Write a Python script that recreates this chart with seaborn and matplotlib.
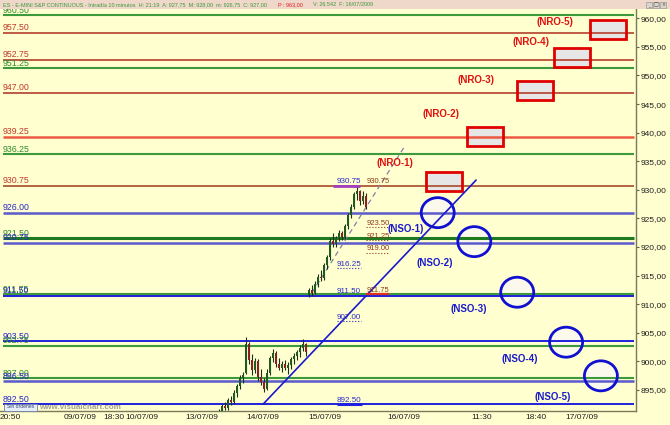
import numpy as np
import pandas as pd
import seaborn as sns
import matplotlib.pyplot as plt
from matplotlib.patches import Rectangle, Ellipse

# horizontal levels (price)
levels = [960.50, 957.50, 952.75, 951.25, 947.00, 939.25, 936.25, 930.75, 926.00,
          921.50, 920.75, 911.75, 911.50, 903.50, 902.75, 897.00, 896.50, 892.50]
level_kind = ['g', 'r', 'r', 'g', 'r', 'r2', 'g', 'r3', 'b',
              'g2', 'b', 'g', 'b2', 'b2', 'g', 'g', 'b', 'b2']

# 10 minute candles (13/07 close, 14/07 and 15/07)
opens = [891.0, 891.3, 892.2, 891.8, 893.2, 892.8, 894.5, 895.6, 897.0, 898.0,
         903.0, 900.2, 898.4, 900.0, 897.2, 896.4, 895.2, 898.0, 900.5, 901.4,
         899.6, 898.9, 899.6, 898.8, 899.4, 900.4, 901.0, 901.6, 902.4, 903.0,
         911.6, 912.4, 912.0, 913.6, 914.8, 914.6, 916.8, 918.2, 921.0, 920.6,
         921.6, 922.4, 921.8, 923.6, 925.6, 927.0, 929.2, 929.8, 928.0, 929.0]
highs = [891.6, 892.6, 892.8, 893.6, 894.0, 895.0, 896.0, 897.6, 898.2, 904.2,
         903.4, 901.2, 900.6, 900.4, 898.6, 897.0, 898.6, 901.0, 902.2, 901.8,
         900.6, 900.0, 900.2, 899.8, 900.8, 901.4, 902.0, 902.8, 903.9, 903.2,
         912.8, 913.4, 914.0, 915.2, 916.0, 917.2, 918.6, 921.6, 922.4, 922.0,
         923.0, 922.8, 924.0, 926.0, 927.6, 929.6, 930.75, 930.0, 929.8, 929.4]
lows = [890.5, 891.0, 891.4, 891.5, 892.4, 892.6, 893.8, 895.2, 896.2, 897.8,
        899.5, 897.6, 898.0, 896.6, 895.8, 894.6, 895.0, 897.6, 899.8, 899.0,
        898.4, 898.2, 898.4, 897.8, 898.6, 899.6, 900.2, 900.8, 901.8, 901.0,
        911.2, 911.4, 911.8, 913.0, 914.0, 914.2, 916.2, 917.8, 920.0, 920.0,
        921.0, 921.2, 921.4, 923.2, 925.0, 926.6, 928.2, 927.4, 927.6, 926.6]
closes = [891.3, 892.2, 891.8, 893.2, 892.8, 894.5, 895.6, 897.0, 897.6, 903.0,
          900.2, 898.4, 900.0, 897.2, 896.4, 895.2, 898.0, 900.5, 901.4, 899.6,
          898.9, 899.6, 898.8, 899.4, 900.4, 901.0, 901.6, 902.4, 903.0, 901.6,
          912.4, 912.0, 913.6, 914.8, 914.6, 916.8, 918.2, 921.0, 920.6, 921.6,
          922.4, 921.8, 923.6, 925.6, 927.0, 929.2, 929.8, 928.0, 929.0, 927.0]
first_bar = 73

# resistance targets (NRO) and support targets (NSO)
nro_names = ['(NRO-1)', '(NRO-2)', '(NRO-3)', '(NRO-4)', '(NRO-5)']
nro_box_bar = [148.0, 161.8, 178.2, 190.7, 202.7]
nro_box_level = [931.46, 939.33, 947.29, 953.14, 958.04]
nro_text_bar = [131.5, 147.0, 158.7, 177.0, 185.0]
nro_text_level = [934.7, 943.26, 949.2, 955.9, 959.35]

nso_names = ['(NSO-1)', '(NSO-2)', '(NSO-3)', '(NSO-4)', '(NSO-5)']
nso_circle_bar = [145.9, 158.1, 172.4, 188.7, 200.3]
nso_circle_level = [926.0, 920.93, 912.08, 903.34, 897.45]
nso_text_bar = [135.2, 145.0, 156.3, 173.3, 184.2]
nso_text_level = [923.15, 917.2, 909.15, 900.4, 893.8]

# trend lines
trend_bars = [87.7, 158.7]
trend_levels = [892.5, 931.7]
channel_bars = [104.0, 135.0]
channel_levels = [912.0, 937.7]

# small price marks beside the candles
blue_marks = [930.75, 916.25, 911.50, 907.00, 892.50]
brown_marks = [930.75, 923.50, 921.25, 919.00, 911.75]

# x axis
tick_bars = [0, 21.3, 34.3, 41.7, 61.7, 82.0, 102.7, 129.0, 157.0, 175.0, 188.3]
tick_labels = ['20:50', '09/07/09', '18:30', '10/07/09', '13/07/09', '14/07/09',
               '15/07/09', '16/07/09', '11:30', '18:40', '17/07/09']
price_ticks = list(range(895, 961, 5))

BG = '#FFFFD0'
sns.set_style('white', {'axes.facecolor': BG, 'figure.facecolor': BG})
plt.rcParams['font.family'] = ['Liberation Sans', 'DejaVu Sans']

kind_style = {
    'g': ('#3C9A3C', 1.5, '#2E8B2E'),
    'g2': ('#1E7A1E', 2.2, '#2E8B2E'),
    'r': ('#B4402C', 1.2, '#C0392B'),
    'r2': ('#EC5A44', 1.8, '#C0392B'),
    'r3': ('#A84A2A', 1.2, '#C0392B'),
    'b': ('#5A5ACC', 1.8, '#2828C8'),
    'b2': ('#2020DD', 1.4, '#2828C8'),
}

fig = plt.figure(figsize=(6.7, 4.25), dpi=100)
ax = fig.add_axes([0, 1 - 411 / 425, 636 / 670, (411 - 9) / 425])
ax.set_xlim(0, 212)
ax.set_ylim(891.3, 961.63)

for lv, kind in zip(levels, level_kind):
    col, lw, tcol = kind_style[kind]
    ax.hlines(lv, 1, 211.3, color=col, lw=lw, zorder=2)
    ax.annotate(f'{lv:.2f}', (1, lv), xytext=(0, 1.8), textcoords='offset points',
                fontsize=6.3, color=tcol, va='baseline', ha='left', zorder=6,
                annotation_clip=False, clip_on=True)

# target boxes and circles (fill below lines, edge above)
for b, lv in zip(nro_box_bar, nro_box_level):
    ax.add_patch(Rectangle((b - 6, lv - 1.66), 12, 3.32, facecolor='#E6E6E6', lw=0, zorder=1))
    ax.add_patch(Rectangle((b - 6, lv - 1.66), 12, 3.32, fill=False, edgecolor='#E00000', lw=2, zorder=3))
for name, b, lv in zip(nro_names, nro_text_bar, nro_text_level):
    ax.text(b, lv, name, color='#E01010', fontsize=7, fontweight='bold', ha='center', va='center', zorder=6)

for b, lv in zip(nso_circle_bar, nso_circle_level):
    ax.add_patch(Ellipse((b, lv), 11, 5.25, facecolor='#FBF8EC', lw=0, zorder=1))
    ax.add_patch(Ellipse((b, lv), 11, 5.25, fill=False, edgecolor='#1010D0', lw=2, zorder=3))
for name, b, lv in zip(nso_names, nso_text_bar, nso_text_level):
    ax.text(b, lv, name, color='#1A1ACC', fontsize=7, fontweight='bold', ha='center', va='center', zorder=6)

# trend lines
sns.lineplot(x=trend_bars, y=trend_levels, ax=ax, color='#1A1ACC', lw=1.2, zorder=3)
sns.lineplot(x=channel_bars, y=channel_levels, ax=ax, color='#8080A8', lw=0.9,
             linestyle=(0, (4, 3)), zorder=3)

# candles
df = pd.DataFrame({'open': opens, 'high': highs, 'low': lows, 'close': closes})
df['bar'] = np.arange(first_bar, first_bar + len(df))
up = df['close'] >= df['open']
ax.vlines(df['bar'], df['low'], df['high'], color='#1E2E1E', lw=0.8, zorder=4)
ax.bar(df['bar'], (df['close'] - df['open']).abs().clip(lower=0.15),
       bottom=np.minimum(df['open'], df['close']), width=0.75,
       color=np.where(up, '#1F5A1F', '#8B2020'), lw=0, zorder=5)

# price marks near the candles
for lv in blue_marks:
    ax.annotate(f'{lv:.2f}', (112.3, lv), xytext=(0, 1.6), textcoords='offset points',
                fontsize=5.8, color='#2828C8', va='baseline', ha='left', zorder=6)
for lv in brown_marks:
    ax.annotate(f'{lv:.2f}', (122.3, lv), xytext=(0, 1.6), textcoords='offset points',
                fontsize=5.5, color='#8B3A1A', va='baseline', ha='left', zorder=6)
ax.hlines(blue_marks[0], 111, 120, color='#A040C0', lw=2, zorder=4)
ax.hlines(blue_marks[1:4:2], 112.3, 120.3, color='#2828C8', lw=0.8, linestyles=':', zorder=4)
ax.hlines(blue_marks[4], 112.3, 120.7, color='#2020E0', lw=2.2, zorder=4)
ax.hlines(brown_marks[1:4], 122, 129.7, color='#8B3A1A', lw=0.8, linestyles=':', zorder=4)
ax.hlines(brown_marks[4], 122, 129.7, color='#E03020', lw=1.6, zorder=4)

# axes styling
ax.set_xlabel('')
ax.set_ylabel('')
ax.set_xticks(tick_bars)
ax.set_xticklabels(tick_labels, ha='left')
ax.yaxis.tick_right()
ax.set_yticks(price_ticks)
ax.set_yticklabels([f'{v:.2f}'.replace('.', ',') for v in price_ticks])
ax.tick_params(axis='both', labelsize=6.0, labelcolor='#202020', colors='#606050',
               length=2, width=0.8, pad=1)
ax.tick_params(axis='x', pad=0.5)
for side in ['top', 'left']:
    ax.spines[side].set_visible(False)
for side in ['right', 'bottom']:
    ax.spines[side].set_color('#7A7A5A')
    ax.spines[side].set_linewidth(1)

# watermark and order box
fig.text(39 / 670, 1 - 407.5 / 425, 'www.visualchart.com', fontsize=5.8, fontweight='bold',
         color='#A0A098', va='center', ha='left', zorder=7)
fig.add_artist(Rectangle((4 / 670, 1 - 410.5 / 425), 33 / 670, 7 / 425, transform=fig.transFigure,
                         facecolor='#E8EEF8', edgecolor='#7080A8', lw=0.6, zorder=8))
fig.text(20.5 / 670, 1 - 407 / 425, 'Sin órdenes', fontsize=3.6, color='#304070',
         ha='center', va='center', zorder=9)

# header bar
fig.add_artist(Rectangle((0, 1 - 9 / 425), 1, 9 / 425, transform=fig.transFigure,
                         facecolor='#EFD7C9', lw=0, zorder=10))
fig.text(3 / 670, 1 - 4.5 / 425,
         'ES - E-MINI S&P CONTINUOUS - Intradía 10 minutos  H: 21:19  A: 927,75  M: 928,00  m: 926,75  C: 927,00',
         fontsize=4, color='#3C9A3C', va='center', ha='left', zorder=11)
fig.text(278 / 670, 1 - 4.5 / 425, 'P : 963,00', fontsize=4, color='#E02020',
         va='center', ha='left', zorder=11)
fig.text(313 / 670, 1 - 4.5 / 425, 'V: 26.542  F: 16/07/2009', fontsize=4, color='#3C9A3C',
         va='center', ha='left', zorder=11)
for i, glyph in enumerate(['_', '□', '×']):
    x0 = (646 + 7 * i) / 670
    fig.add_artist(Rectangle((x0, 1 - 8 / 425), 6 / 670, 6 / 425, transform=fig.transFigure,
                             facecolor='#DCD4CC', edgecolor='#8A8A8A', lw=0.4, zorder=11))
    fig.text(x0 + 3 / 670, 1 - 5 / 425, glyph, fontsize=3.5, color='#404040',
             ha='center', va='center', zorder=12, family=['DejaVu Sans'])

plt.savefig('out.png', dpi=100, facecolor=BG)
